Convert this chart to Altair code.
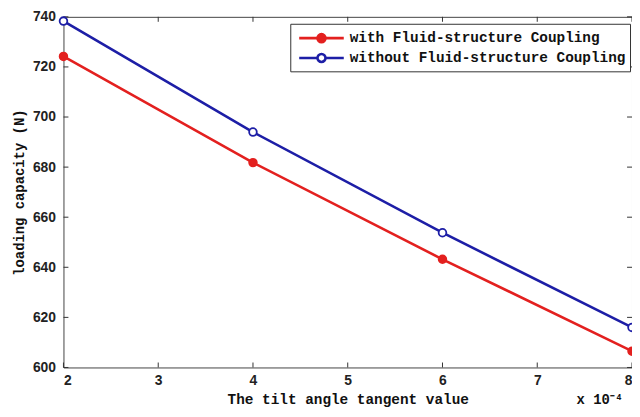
import altair as alt
import pandas as pd

x_vals = [2, 4, 6, 8]
with_fsc = [724.2, 681.8, 643.2, 606.5]
without_fsc = [738.3, 694.0, 653.8, 616.0]
series_names = ["with Fluid-structure Coupling", "without Fluid-structure Coupling"]
colors = ["#e3201f", "#1d1ea6"]
fills = ["#e3201f", "#ffffff"]
x_ticks = [2, 3, 4, 5, 6, 7, 8]
y_ticks = [600, 620, 640, 660, 680, 700, 720, 740]

W, H = 574, 354

rows = []
for xv, a, b in zip(x_vals, with_fsc, without_fsc):
    rows.append({"x": xv, "y": a, "series": series_names[0]})
    rows.append({"x": xv, "y": b, "series": series_names[1]})
df = pd.DataFrame(rows)

xs = alt.Scale(domain=[2, 8], nice=False, zero=False)
ys = alt.Scale(domain=[600, 740], nice=False, zero=False)

mono = "Liberation Mono"
sans = "Liberation Sans"

xaxis = alt.Axis(values=x_ticks, format="d", ticks=False, domain=False, grid=False,
                 labelFont=sans, labelFontSize=14, labelFontWeight="bold", labelColor="#222",
                 labelPadding=6,
                 title="The tilt angle tangent value", titleFont=mono, titleFontSize=14.5,
                 titleFontWeight="bold", titleColor="#111", titlePadding=5)
yaxis = alt.Axis(values=y_ticks, format="d", ticks=False, domain=False, grid=False,
                 labelFont=sans, labelFontSize=14, labelFontWeight="bold", labelColor="#222",
                 labelPadding=8,
                 title="loading capacity (N)", titleFont=mono, titleFontSize=14,
                 titleFontWeight="bold", titleColor="#111", titlePadding=6)

# legend symbol: line segment with a marker in the middle (unit = half symbol size)
sym = ("M-2.5,0L-0.45,0M0.45,0L2.5,0"
       "M-0.45,0A0.45,0.45,0,1,1,0.45,0A0.45,0.45,0,1,1,-0.45,0Z")
leg = alt.Legend(title=None)

base = alt.Chart(df)

stroke_enc = alt.Stroke("series:N", scale=alt.Scale(domain=series_names, range=colors), legend=leg)
fill_enc = alt.Fill("series:N", scale=alt.Scale(domain=series_names, range=fills), legend=leg)

lines = base.mark_line(strokeWidth=2.6).encode(
    x=alt.X("x:Q", scale=xs, axis=xaxis),
    y=alt.Y("y:Q", scale=ys, axis=yaxis),
    stroke=stroke_enc,
)

points = base.mark_point(shape="circle", size=60, strokeWidth=1.8, opacity=1).encode(
    x=alt.X("x:Q", scale=xs),
    y=alt.Y("y:Q", scale=ys),
    stroke=stroke_enc,
    fill=fill_enc,
)

xt = pd.DataFrame({"x": x_ticks})
yt = pd.DataFrame({"y": y_ticks})
tick_color = "#333"
bottom_ticks = alt.Chart(xt).mark_rule(color=tick_color, strokeWidth=1).encode(
    x=alt.X("x:Q", scale=xs), y=alt.value(H), y2=alt.value(H - 5))
top_ticks = alt.Chart(xt).mark_rule(color=tick_color, strokeWidth=1).encode(
    x=alt.X("x:Q", scale=xs), y=alt.value(0), y2=alt.value(5))
left_ticks = alt.Chart(yt).mark_rule(color=tick_color, strokeWidth=1).encode(
    y=alt.Y("y:Q", scale=ys), x=alt.value(0), x2=alt.value(5))
right_ticks = alt.Chart(yt).mark_rule(color=tick_color, strokeWidth=1).encode(
    y=alt.Y("y:Q", scale=ys), x=alt.value(W), x2=alt.value(W - 5))

exp_label = alt.Chart(pd.DataFrame({"t": ["x 10\u207b\u2074"]})).mark_text(
    font=mono, fontSize=14, fontWeight="bold", align="left", baseline="middle", color="#111"
).encode(text="t:N", x=alt.value(W - 56), y=alt.value(H + 33))

chart = alt.layer(
    bottom_ticks, top_ticks, left_ticks, right_ticks, lines, points, exp_label
).properties(
    width=W, height=H,
    autosize=alt.AutoSizeParams(type="none"),
    padding={"left": 56, "top": 7, "right": 0, "bottom": 40},
).configure_view(
    stroke="#444", strokeWidth=1
).configure_legend(
    orient="none", legendX=229, legendY=7,
    strokeColor="#333", fillColor="white", padding=4,
    symbolType=sym, symbolSize=324, symbolStrokeWidth=2.6, symbolOffset=17,
    labelFont=mono, labelFontSize=14.5, labelFontWeight="bold", labelColor="#111",
    labelLimit=400, labelOffset=18, rowPadding=0,
)

chart.save("out.html", embed_options={"renderer": "svg", "actions": False})
